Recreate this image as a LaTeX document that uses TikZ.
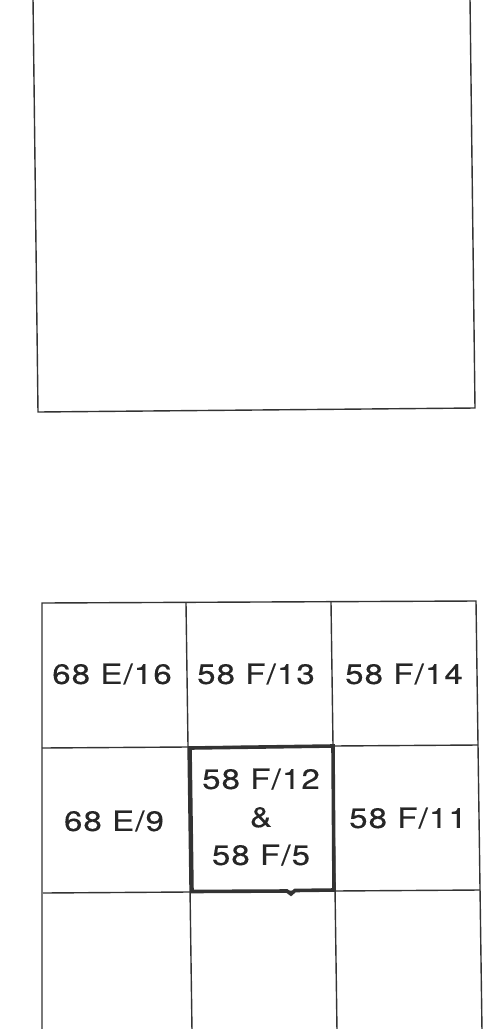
\documentclass[tikz,border=0pt]{standalone}
\usepackage{fontspec}
\setmainfont{TeX Gyre Heros}
\newfontfamily\labfont{TeX Gyre Heros}[FakeStretch=1.18,LetterSpace=4,FakeBold=0.3]
\begin{document}
\begin{tikzpicture}[x=1pt,y=-1pt,
  thin line/.style={draw=black!80,line width=1.4pt},
  bold line/.style={draw=black!80,line width=3.6pt,line join=miter},
  lab/.style={font=\labfont\fontsize{28}{38}\selectfont,text=black!85,align=center,inner sep=0pt}]
\useasboundingbox (0,0) rectangle (487,1029);
% top frame
\draw[thin line] (33,-2) -- (38,412) -- (475,408) -- (470,-2);
% bottom grid
\draw[thin line] (42,1031) -- (42,603) -- (476,601) -- (482,1031);
\draw[thin line] (186,603) -- (192,1031);
\draw[thin line] (331,602) -- (337,1031);
\draw[thin line] (42,748) -- (478,745);
\draw[thin line] (43,893) -- (480,890);
% highlighted sheet
\draw[bold line] (190,748) -- (333,746) -- (334,890) -- (295,890.5) -- (291,894) -- (287,891) -- (192,891.5) -- cycle;
% labels
\node[lab] (e16) at (112,674) {68 E/16};
\node[lab] (f13) at (256,674) {58 F/13};
\node[lab] (f14) at (404,674) {58 F/14};
\node[lab] (e9) at (114,821) {68 E/9};
\node[lab] (f11) at (408,818) {58 F/11};
\node[lab] (f12) at (261,817) {58 F/12\\\&\\58 F/5};
\end{tikzpicture}
\end{document}
